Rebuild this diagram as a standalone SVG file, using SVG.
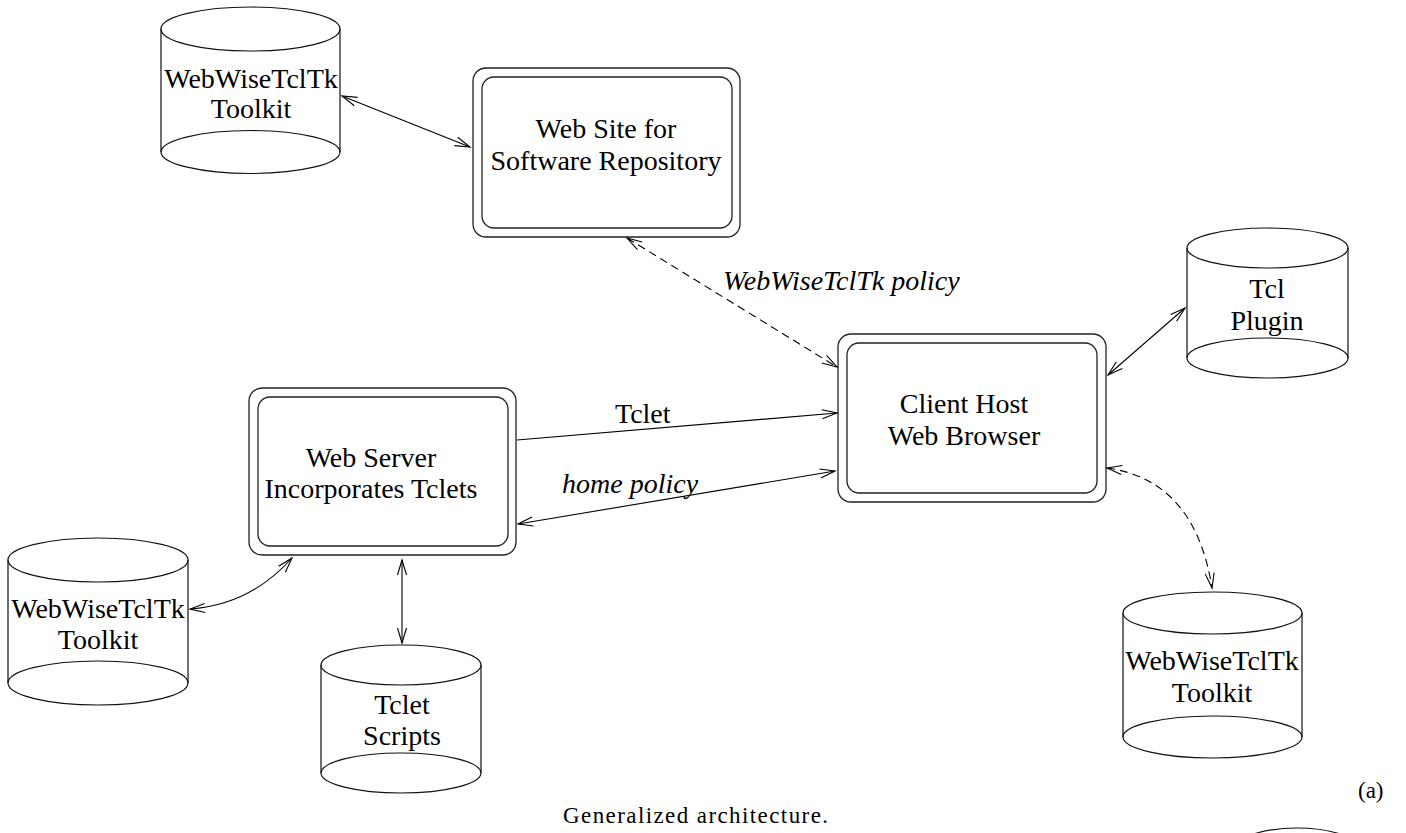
<svg xmlns="http://www.w3.org/2000/svg" width="1406" height="833" viewBox="0 0 1406 833">
<style>
.bg{fill:#fff}
.box{fill:none;stroke:#222;stroke-width:1.3}
.cyl{fill:none;stroke:#111;stroke-width:1.2}
.t{font-family:"Liberation Serif","Times New Roman",serif;font-size:28px;fill:#000;text-anchor:middle}
.lbl{font-family:"Liberation Serif","Times New Roman",serif;font-size:28px;fill:#000}
.it{font-style:italic}
.ln{fill:none;stroke:#000;stroke-width:1.1}
.dash{stroke-dasharray:8 5}
.cap{font-family:"Liberation Serif","Times New Roman",serif;font-size:23px;fill:#000}
</style>
<defs>
<marker id="ah" markerUnits="userSpaceOnUse" markerWidth="18" markerHeight="12" refX="15" refY="5" orient="auto-start-reverse" overflow="visible">
<path d="M0,0.5 L15,5 L0,9.5" fill="none" stroke="#000" stroke-width="1.1" stroke-dasharray="none"/>
</marker>
</defs>
<rect class="bg" x="0" y="0" width="1406" height="833"/>

<g id="toolkit-top">
<ellipse class="cyl" cx="250.5" cy="29" rx="89.5" ry="22"/>
<ellipse class="cyl" cx="250.5" cy="152" rx="89.5" ry="21.5"/>
<path class="cyl" d="M161,29 V152 M340,29 V152"/>
<text class="t" x="251" y="88">WebWiseTclTk</text>
<text class="t" x="251" y="118">Toolkit</text>
</g>

<g id="website">
<rect class="box" x="473" y="68" width="267" height="169" rx="13"/>
<rect class="box" x="482" y="77" width="250" height="151" rx="12"/>
<text class="t" x="606" y="138">Web Site for</text>
<text class="t" x="606" y="170">Software Repository</text>
</g>

<g id="tclplugin">
<ellipse class="cyl" cx="1267.5" cy="248" rx="80.5" ry="20"/>
<ellipse class="cyl" cx="1267.5" cy="358" rx="80.5" ry="20"/>
<path class="cyl" d="M1187,248 V358 M1348,248 V358"/>
<text class="t" x="1267" y="298">Tcl</text>
<text class="t" x="1267" y="330">Plugin</text>
</g>

<g id="client">
<rect class="box" x="838" y="334" width="268" height="168" rx="13"/>
<rect class="box" x="847" y="343" width="250" height="150" rx="12"/>
<text class="t" x="964" y="413">Client Host</text>
<text class="t" x="964" y="445">Web Browser</text>
</g>

<g id="webserver">
<rect class="box" x="249" y="388" width="267" height="167" rx="13"/>
<rect class="box" x="258" y="397" width="250" height="149" rx="12"/>
<text class="t" x="371" y="467">Web Server</text>
<text class="t" x="371" y="498">Incorporates Tclets</text>
</g>

<g id="toolkit-left">
<ellipse class="cyl" cx="98" cy="560" rx="90" ry="22"/>
<ellipse class="cyl" cx="98" cy="683" rx="90" ry="22"/>
<path class="cyl" d="M8,560 V683 M188,560 V683"/>
<text class="t" x="98" y="618">WebWiseTclTk</text>
<text class="t" x="98" y="649">Toolkit</text>
</g>

<g id="scripts">
<ellipse class="cyl" cx="401" cy="665" rx="80" ry="20"/>
<ellipse class="cyl" cx="401" cy="773" rx="80" ry="20"/>
<path class="cyl" d="M321,665 V773 M481,665 V773"/>
<text class="t" x="402" y="714">Tclet</text>
<text class="t" x="402" y="745">Scripts</text>
</g>

<g id="toolkit-right">
<ellipse class="cyl" cx="1212.5" cy="613" rx="89.5" ry="21"/>
<ellipse class="cyl" cx="1212.5" cy="737" rx="89.5" ry="21"/>
<path class="cyl" d="M1123,613 V737 M1302,613 V737"/>
<text class="t" x="1212" y="670">WebWiseTclTk</text>
<text class="t" x="1212" y="702">Toolkit</text>
</g>

<g id="partial">
<ellipse class="cyl" cx="1297" cy="850" rx="63" ry="22"/>
</g>

<g id="connectors">
<path class="ln" d="M342,96 L470,147" marker-start="url(#ah)" marker-end="url(#ah)"/>
<path class="ln dash" d="M627,238 L837,367" marker-start="url(#ah)" marker-end="url(#ah)"/>
<path class="ln" d="M517,440 L837,413" marker-end="url(#ah)"/>
<path class="ln" d="M518,524 L835,471" marker-start="url(#ah)" marker-end="url(#ah)"/>
<path class="ln" d="M1108,375 L1185,308" marker-start="url(#ah)" marker-end="url(#ah)"/>
<path class="ln" d="M190,609 Q250,605 292,558" marker-start="url(#ah)" marker-end="url(#ah)"/>
<path class="ln dash" d="M1107,468 Q1195,480 1212,588" marker-start="url(#ah)" marker-end="url(#ah)"/>
<path class="ln" d="M402,560 L402,643" marker-start="url(#ah)" marker-end="url(#ah)"/>
<text class="lbl it" x="723" y="290">WebWiseTclTk policy</text>
<text class="lbl" x="615" y="423">Tclet</text>
<text class="lbl it" x="562" y="493">home policy</text>
</g>

<text class="cap" x="1358" y="798">(a)</text>
<text class="cap" x="563" y="823" textLength="265" lengthAdjust="spacing">Generalized architecture.</text>
</svg>
